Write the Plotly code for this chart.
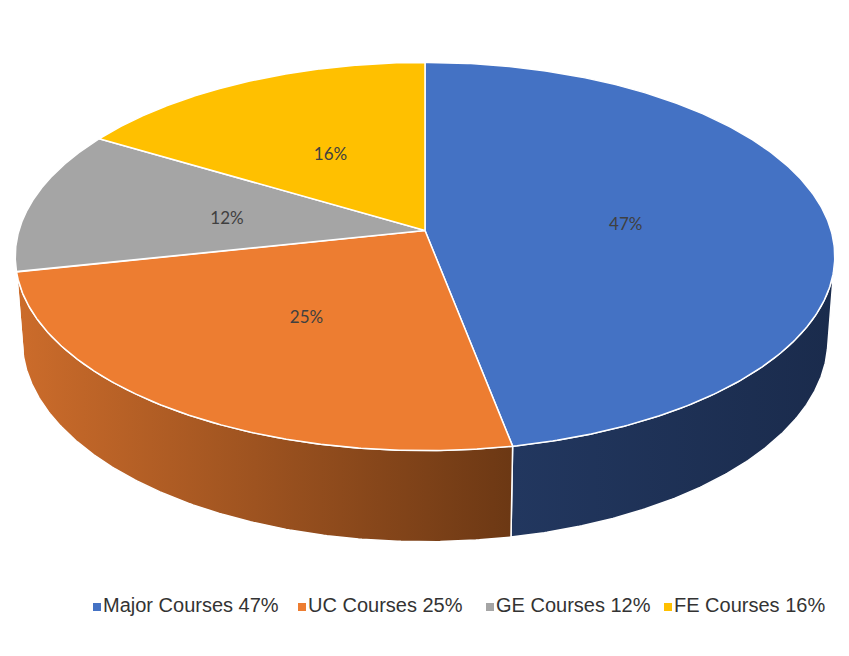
import numpy as np
import plotly.graph_objects as go

# ---------------- data ----------------
CATEGORIES = ["Major Courses", "UC Courses", "GE Courses", "FE Courses"]
SHARES = [47.0, 24.6, 12.0, 16.4]      # percent
LABELS = [f"{round(v)}%" for v in SHARES]

# ---------------- styles ----------------
TOP_COLORS = ["#4472C4", "#ED7D31", "#A5A5A5", "#FFC000"]
WALL_GRADIENTS = [
    ["#22375F", "#1A2B4C"],
    ["#CC6C2B", "#6C3814"],
    ["#5E5E5E", "#4A4A4A"],
    ["#8C6C00", "#7A5E00"],
]
LABEL_FONT = dict(family="Lato, Carlito, sans-serif", size=17, color="#404040")
LEGEND_FONT = dict(family="Liberation Sans, Arial, sans-serif", size=20, color="#333333")
LEGEND_SLOT_X = [97, 302, 490, 668]
LEGEND_Y = 607

# ---------------- 3D projection (layout geometry) ----------------
W, H = 849, 656
PAGE_OFFSET = 8            # default body margin of the html page
CX, CY = 425, 230.5        # projected pie centre (pixels)
ELEV = np.radians(28)      # camera elevation
DIST = 6.59                # camera distance (in pie radii)
FOCAL = 2676               # focal length (pixels)
THICK = 0.2345             # pie thickness (in pie radii)
LABEL_RADIUS = 0.5
LABEL_DEPTH = 0.05         # labels sit slightly inside the slab


def proj(theta, z=0.0, r=1.0):
    """theta: clockwise from 12 o'clock (back); z: 0 top face, 1 bottom face."""
    X = r * np.sin(theta)
    Y = r * np.cos(theta)
    Z = -THICK * z
    depth = Y * np.cos(ELEV) - Z * np.sin(ELEV) + DIST
    up = Y * np.sin(ELEV) + Z * np.cos(ELEV)
    return CX + FOCAL * X / depth, CY - FOCAL * up / depth


fr = np.array(SHARES, dtype=float) / np.sum(SHARES)
ends = np.cumsum(fr) * 2 * np.pi
starts = ends - fr * 2 * np.pi

# silhouette angles (extreme left / right of top face)
grid = np.linspace(0, 2 * np.pi, 20001)
gx, _ = proj(grid)
theta_right = grid[np.argmax(gx)]
theta_left = grid[np.argmin(gx)]

fig = go.Figure()

# side walls (front-facing part only)
for i in range(len(SHARES)):
    a = max(starts[i], theta_right)
    b = min(ends[i], theta_left)
    if b <= a:
        continue
    ts = np.linspace(a, b, 200)
    tx, ty = proj(ts, 0)
    bx, by = proj(ts[::-1], 1)
    xs = np.concatenate([tx, bx, tx[:1]])
    ys = np.concatenate([ty, by, ty[:1]])
    fig.add_trace(go.Scatter(
        x=xs, y=ys, mode="lines", fill="toself",
        fillgradient=dict(type="horizontal",
                          colorscale=[[0, WALL_GRADIENTS[i][0]], [1, WALL_GRADIENTS[i][1]]]),
        line=dict(color="white", width=1.5),
        hoverinfo="skip", showlegend=False,
    ))

# top faces
for i in range(len(SHARES)):
    ts = np.linspace(starts[i], ends[i], 300)
    ax, ay = proj(ts, 0)
    xs = np.concatenate([[CX], ax, [CX]])
    ys = np.concatenate([[CY], ay, [CY]])
    fig.add_trace(go.Scatter(
        x=xs, y=ys, mode="lines", fill="toself", fillcolor=TOP_COLORS[i],
        line=dict(color="white", width=1.5),
        name=CATEGORIES[i], hoverinfo="name", showlegend=False,
    ))

# data labels
mids = (starts + ends) / 2
lx, ly = proj(mids, LABEL_DEPTH, LABEL_RADIUS)
fig.add_trace(go.Scatter(
    x=lx, y=ly, mode="text", text=LABELS,
    textfont=LABEL_FONT, hoverinfo="skip", showlegend=False,
))

# legend
fig.add_trace(go.Scatter(
    x=LEGEND_SLOT_X, y=[LEGEND_Y] * len(CATEGORIES), mode="markers+text",
    marker=dict(symbol="square", size=8, color=TOP_COLORS),
    text=[f"{c} {l}" for c, l in zip(CATEGORIES, LABELS)],
    textposition="middle right", textfont=LEGEND_FONT,
    hoverinfo="skip", showlegend=False, cliponaxis=False,
))

fig.update_layout(
    width=W, height=H,
    margin=dict(l=0, r=0, t=0, b=0),
    paper_bgcolor="white", plot_bgcolor="white",
    xaxis=dict(range=[PAGE_OFFSET, W + PAGE_OFFSET], visible=False, fixedrange=True),
    yaxis=dict(range=[H + PAGE_OFFSET, PAGE_OFFSET], visible=False, fixedrange=True),
    showlegend=False,
)

fig.write_html("out.html")
